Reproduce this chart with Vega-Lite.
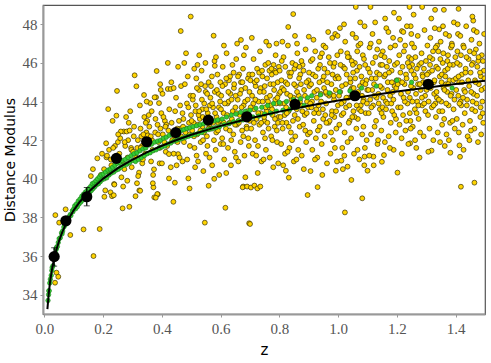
{
"$schema": "https://vega.github.io/schema/vega-lite/v6.json",
"width": 442, "height": 309,
"autosize": {"type": "none"},
"padding": {"left": 43, "top": 5, "right": 6, "bottom": 49},
"background": "white",
"config": {
  "view": {"stroke": "#555", "strokeWidth": 1.2},
  "axis": {"grid": false, "domainColor": "#999", "domainWidth": 2, "tickColor": "#999", "tickSize": 3, "tickWidth": 1}
},
"datasets": {
"curve": [
{"z":0.01,"mu":33.25},{"z":0.015,"mu":34.13},{"z":0.02,"mu":34.77},{"z":0.025,"mu":35.25},{"z":0.03,"mu":35.66},{"z":0.04,"mu":36.30},{"z":0.05,"mu":36.80},{"z":0.06,"mu":37.21},{"z":0.07,"mu":37.56},{"z":0.08,"mu":37.87},{"z":0.09,"mu":38.13},{"z":0.1,"mu":38.38},{"z":0.12,"mu":38.80},{"z":0.15,"mu":39.32},{"z":0.2,"mu":40.01},{"z":0.25,"mu":40.55},{"z":0.3,"mu":40.99},{"z":0.35,"mu":41.38},{"z":0.4,"mu":41.71},{"z":0.45,"mu":42.01},{"z":0.5,"mu":42.28},{"z":0.6,"mu":42.74},{"z":0.7,"mu":43.14},{"z":0.8,"mu":43.48},{"z":0.9,"mu":43.78},{"z":1.0,"mu":44.05},{"z":1.1,"mu":44.29},{"z":1.2,"mu":44.52},{"z":1.3,"mu":44.72},{"z":1.4,"mu":44.91},{"z":1.5,"mu":45.08}
],
"bins": [
{"z":0.033,"mu":35.97,"lo":35.48,"hi":36.43},{"z":0.073,"mu":37.83,"lo":37.68,"hi":37.98},{"z":0.144,"mu":39.07,"lo":38.6,"hi":39.55},{"z":0.245,"mu":41.06,"lo":40.95,"hi":41.17},{"z":0.348,"mu":41.92,"lo":41.82,"hi":42.02},{"z":0.447,"mu":42.39,"lo":42.3,"hi":42.48},{"z":0.558,"mu":43.04,"lo":42.95,"hi":43.13},{"z":0.689,"mu":43.21,"lo":43.12,"hi":43.3},{"z":0.853,"mu":43.86,"lo":43.78,"hi":43.94},{"z":1.057,"mu":44.3,"lo":44.22,"hi":44.38},{"z":1.307,"mu":44.89,"lo":44.81,"hi":44.97}
],
"green": [
{"z":0.012,"mu":33.7},{"z":0.014,"mu":34.0},{"z":0.015,"mu":34.2},{"z":0.016,"mu":34.2},{"z":0.018,"mu":34.6},{"z":0.02,"mu":34.8},{"z":0.023,"mu":35.0},{"z":0.025,"mu":35.25},{"z":0.026,"mu":35.4},{"z":0.029,"mu":35.5},{"z":0.032,"mu":35.85},{"z":0.035,"mu":36.1},{"z":0.038,"mu":36.15},{"z":0.04,"mu":36.35},{"z":0.041,"mu":36.45},{"z":0.044,"mu":36.5},{"z":0.047,"mu":36.7},{"z":0.05,"mu":36.9},{"z":0.054,"mu":36.95},{"z":0.058,"mu":37.2},{"z":0.06,"mu":37.15},{"z":0.062,"mu":37.3},{"z":0.066,"mu":37.5},{"z":0.07,"mu":37.6},{"z":0.072,"mu":37.7},{"z":0.075,"mu":37.7},{"z":0.08,"mu":37.95},{"z":0.085,"mu":38.05},{"z":0.088,"mu":38.15},{"z":0.09,"mu":38.1},{"z":0.095,"mu":38.35},{"z":0.097,"mu":38.3},{"z":0.1,"mu":38.45},
{"z":0.103,"mu":38.6},{"z":0.106,"mu":38.45},{"z":0.109,"mu":38.7},{"z":0.112,"mu":38.55},{"z":0.115,"mu":38.85},{"z":0.118,"mu":38.7},{"z":0.121,"mu":38.95},{"z":0.124,"mu":38.8},{"z":0.127,"mu":39.1},{"z":0.13,"mu":38.9},{"z":0.133,"mu":39.2},{"z":0.136,"mu":39.0},{"z":0.139,"mu":39.3},{"z":0.142,"mu":39.1},{"z":0.145,"mu":39.4},{"z":0.148,"mu":39.2},{"z":0.151,"mu":39.5},{"z":0.154,"mu":39.3},{"z":0.157,"mu":39.6},{"z":0.16,"mu":39.4},{"z":0.163,"mu":39.75},{"z":0.166,"mu":39.5},{"z":0.169,"mu":39.8},{"z":0.172,"mu":39.6},{"z":0.175,"mu":39.9},{"z":0.178,"mu":39.7},{"z":0.181,"mu":40.0},{"z":0.184,"mu":39.75},{"z":0.187,"mu":40.1},{"z":0.19,"mu":39.85},{"z":0.193,"mu":40.2},{"z":0.196,"mu":39.95},{"z":0.2,"mu":40.25},{"z":0.204,"mu":40.0},{"z":0.208,"mu":40.35},{"z":0.212,"mu":40.05},{"z":0.216,"mu":40.45},{"z":0.22,"mu":40.2},{"z":0.224,"mu":40.5},{"z":0.228,"mu":40.3},{"z":0.232,"mu":40.6},{"z":0.236,"mu":40.35},{"z":0.24,"mu":40.7},{"z":0.244,"mu":40.45},{"z":0.248,"mu":40.8},{"z":0.252,"mu":40.5},{"z":0.256,"mu":40.85},{"z":0.26,"mu":40.6},{"z":0.265,"mu":40.95},{"z":0.27,"mu":40.7},{"z":0.275,"mu":41.0},{"z":0.28,"mu":40.75},{"z":0.285,"mu":41.1},{"z":0.29,"mu":40.85},{"z":0.295,"mu":41.2},{"z":0.3,"mu":40.95},
{"z":0.305,"mu":41.3},{"z":0.31,"mu":40.9},{"z":0.315,"mu":41.35},{"z":0.32,"mu":41.0},{"z":0.325,"mu":41.45},{"z":0.33,"mu":41.1},{"z":0.335,"mu":41.55},{"z":0.34,"mu":41.2},{"z":0.345,"mu":41.6},{"z":0.35,"mu":41.3},{"z":0.355,"mu":41.75},{"z":0.36,"mu":41.35},{"z":0.365,"mu":41.8},{"z":0.37,"mu":41.45},{"z":0.375,"mu":41.9},{"z":0.38,"mu":41.5},{"z":0.385,"mu":41.95},{"z":0.39,"mu":41.6},{"z":0.395,"mu":42.0},{"z":0.4,"mu":41.65},{"z":0.405,"mu":42.1},{"z":0.41,"mu":41.7},{"z":0.415,"mu":42.15},{"z":0.42,"mu":41.8},{"z":0.425,"mu":42.25},{"z":0.43,"mu":41.85},{"z":0.435,"mu":42.3},{"z":0.44,"mu":41.95},{"z":0.445,"mu":42.35},{"z":0.45,"mu":42.0},{"z":0.455,"mu":42.45},{"z":0.46,"mu":42.05},{"z":0.465,"mu":42.5},{"z":0.47,"mu":42.1},{"z":0.475,"mu":42.55},{"z":0.48,"mu":42.15},{"z":0.485,"mu":42.6},{"z":0.49,"mu":42.2},{"z":0.495,"mu":42.65},{"z":0.5,"mu":42.25},{"z":0.506,"mu":42.7},{"z":0.512,"mu":42.3},{"z":0.518,"mu":42.75},{"z":0.524,"mu":42.35},{"z":0.53,"mu":42.8},{"z":0.536,"mu":42.4},{"z":0.542,"mu":42.85},{"z":0.548,"mu":42.5},{"z":0.554,"mu":42.9},{"z":0.56,"mu":42.55},{"z":0.566,"mu":42.95},{"z":0.572,"mu":42.6},{"z":0.578,"mu":43.0},{"z":0.584,"mu":42.65},{"z":0.59,"mu":43.05},{"z":0.596,"mu":42.7},
{"z":0.605,"mu":43.1},{"z":0.612,"mu":42.8},{"z":0.62,"mu":43.2},{"z":0.628,"mu":42.85},{"z":0.636,"mu":43.3},{"z":0.644,"mu":42.95},{"z":0.652,"mu":43.35},{"z":0.66,"mu":43.0},{"z":0.668,"mu":43.45},{"z":0.676,"mu":43.05},{"z":0.684,"mu":43.5},{"z":0.692,"mu":43.15},{"z":0.7,"mu":43.55},{"z":0.71,"mu":43.2},{"z":0.72,"mu":43.65},{"z":0.73,"mu":43.25},{"z":0.74,"mu":43.7},{"z":0.75,"mu":43.35},{"z":0.76,"mu":43.8},{"z":0.77,"mu":43.4},{"z":0.78,"mu":43.9},{"z":0.79,"mu":43.5},{"z":0.8,"mu":43.95},{"z":0.812,"mu":43.55},{"z":0.824,"mu":44.0},{"z":0.836,"mu":43.6},{"z":0.848,"mu":44.1},{"z":0.86,"mu":43.7},{"z":0.872,"mu":44.15},{"z":0.884,"mu":43.8},{"z":0.896,"mu":44.2},
{"z":0.91,"mu":44.3},{"z":0.94,"mu":44.35},{"z":0.97,"mu":44.45},{"z":1.005,"mu":44.5},{"z":1.04,"mu":44.55},{"z":1.08,"mu":44.7},{"z":1.13,"mu":44.8},{"z":1.2,"mu":45.1},{"z":1.25,"mu":45.0},{"z":1.388,"mu":44.7}
],
"gold": [
{"z":0.037,"mu":38.12},{"z":0.05,"mu":37.73},{"z":0.088,"mu":37.09},{"z":0.133,"mu":37.38},{"z":0.188,"mu":37.4},{"z":0.167,"mu":36.0},{"z":0.041,"mu":35.14},{"z":0.047,"mu":34.93},{"z":0.036,"mu":34.62},{"z":0.025,"mu":35.97},{"z":0.072,"mu":38.42},{"z":0.158,"mu":40.14},{"z":0.18,"mu":41.06},{"z":0.165,"mu":40.5},{"z":0.192,"mu":40.2},{"z":0.196,"mu":41.3},
{"z":0.204,"mu":39.07},{"z":0.207,"mu":39.4},{"z":0.21,"mu":41.84},{"z":0.211,"mu":41.11},{"z":0.217,"mu":43.61},{"z":0.22,"mu":41.5},{"z":0.225,"mu":39.3},{"z":0.23,"mu":39.1},{"z":0.232,"mu":43.0},{"z":0.236,"mu":39.15},{"z":0.237,"mu":39.73},{"z":0.238,"mu":39.7},{"z":0.245,"mu":43.27},{"z":0.247,"mu":44.55},{"z":0.25,"mu":41.9},{"z":0.262,"mu":40.08},{"z":0.266,"mu":38.47},{"z":0.27,"mu":42.45},{"z":0.275,"mu":41.7},{"z":0.28,"mu":42.45},{"z":0.285,"mu":42.0},{"z":0.289,"mu":38.55},{"z":0.29,"mu":42.5},{"z":0.295,"mu":41.6},{"z":0.26,"mu":42.45},{"z":0.255,"mu":41.3},{"z":0.24,"mu":41.7},{"z":0.228,"mu":40.7},{"z":0.215,"mu":40.4},{"z":0.265,"mu":40.9},{"z":0.272,"mu":40.5},{"z":0.283,"mu":41.1},{"z":0.297,"mu":40.6},{"z":0.242,"mu":40.95},{"z":0.258,"mu":42.1},{"z":0.278,"mu":43.2},{"z":0.292,"mu":43.5},{"z":0.268,"mu":39.6},{"z":0.282,"mu":39.9},
{"z":0.203,"mu":40.5},{"z":0.213,"mu":41.2},{"z":0.226,"mu":41.0},{"z":0.234,"mu":41.6},{"z":0.251,"mu":42.3},{"z":0.257,"mu":40.9},{"z":0.273,"mu":41.9},{"z":0.287,"mu":42.9},{"z":0.296,"mu":41.5},{"z":0.304,"mu":42.2},{"z":0.316,"mu":41.6},{"z":0.327,"mu":42.6},{"z":0.332,"mu":41.7},{"z":0.347,"mu":42.4},{"z":0.357,"mu":42.7},{"z":0.366,"mu":42.0},{"z":0.377,"mu":42.4},{"z":0.387,"mu":42.3},{"z":0.393,"mu":41.6},{"z":0.403,"mu":42.3},{"z":0.413,"mu":41.4},{"z":0.422,"mu":42.5},{"z":0.433,"mu":42.9},{"z":0.442,"mu":42.1},{"z":0.453,"mu":41.9},{"z":0.463,"mu":42.6},{"z":0.473,"mu":43.1},{"z":0.483,"mu":42.6},{"z":0.493,"mu":42.3},{"z":0.499,"mu":43.3},
{"z":0.307,"mu":45.36},{"z":0.313,"mu":44.79},{"z":0.339,"mu":44.34},{"z":0.38,"mu":44.22},{"z":0.375,"mu":44.22},{"z":0.36,"mu":43.92},{"z":0.39,"mu":43.92},{"z":0.382,"mu":45.58},{"z":0.31,"mu":39.1},{"z":0.323,"mu":39.4},{"z":0.315,"mu":39.77},{"z":0.371,"mu":39.56},{"z":0.374,"mu":39.04},{"z":0.386,"mu":39.2},{"z":0.369,"mu":39.77},{"z":0.333,"mu":40.8},{"z":0.322,"mu":40.32},{"z":0.319,"mu":40.14},{"z":0.326,"mu":39.38},{"z":0.373,"mu":40.49},{"z":0.37,"mu":40.2},{"z":0.384,"mu":39.21},{"z":0.379,"mu":39.02},{"z":0.34,"mu":43.2},{"z":0.355,"mu":43.3},{"z":0.365,"mu":43.5},{"z":0.35,"mu":43.0},{"z":0.378,"mu":43.1},{"z":0.345,"mu":42.9},{"z":0.33,"mu":42.2},{"z":0.337,"mu":42.3},{"z":0.352,"mu":42.25},{"z":0.362,"mu":42.2},{"z":0.305,"mu":42.7},{"z":0.318,"mu":42.0},{"z":0.328,"mu":41.6},{"z":0.343,"mu":41.3},{"z":0.358,"mu":41.8},{"z":0.368,"mu":41.5},{"z":0.388,"mu":41.9},{"z":0.395,"mu":42.6},{"z":0.302,"mu":41.4},{"z":0.325,"mu":43.8},{"z":0.348,"mu":44.0},{"z":0.392,"mu":40.8},{"z":0.398,"mu":43.4},{"z":0.312,"mu":41.1},{"z":0.385,"mu":42.8},{"z":0.396,"mu":44.6},{"z":0.335,"mu":41.0},{"z":0.363,"mu":40.9},{"z":0.394,"mu":44.9},
{"z":0.498,"mu":48.4},{"z":0.464,"mu":47.65},{"z":0.42,"mu":44.65},{"z":0.43,"mu":44.65},{"z":0.44,"mu":44.7},{"z":0.465,"mu":44.8},{"z":0.478,"mu":44.9},{"z":0.425,"mu":43.6},{"z":0.445,"mu":43.5},{"z":0.47,"mu":43.4},{"z":0.485,"mu":43.9},{"z":0.49,"mu":43.7},{"z":0.41,"mu":43.0},{"z":0.415,"mu":42.8},{"z":0.405,"mu":43.2},{"z":0.412,"mu":42.7},{"z":0.424,"mu":40.02},{"z":0.444,"mu":39.8},{"z":0.439,"mu":38.81},{"z":0.49,"mu":40.02},{"z":0.424,"mu":41.28},{"z":0.455,"mu":41.28},{"z":0.47,"mu":40.9},{"z":0.486,"mu":41.0},{"z":0.4,"mu":40.8},{"z":0.43,"mu":40.6},{"z":0.45,"mu":40.7},{"z":0.46,"mu":41.1},{"z":0.44,"mu":41.3},{"z":0.475,"mu":41.9},{"z":0.465,"mu":42.2},{"z":0.48,"mu":42.4},{"z":0.495,"mu":41.7},{"z":0.435,"mu":42.0},{"z":0.418,"mu":41.7},{"z":0.452,"mu":42.6},{"z":0.458,"mu":43.0},{"z":0.472,"mu":42.7},{"z":0.492,"mu":42.9},{"z":0.488,"mu":45.3},{"z":0.448,"mu":44.2},{"z":0.432,"mu":45.0},{"z":0.402,"mu":44.4},{"z":0.497,"mu":44.3},{"z":0.482,"mu":46.5},{"z":0.476,"mu":46.0},{"z":0.455,"mu":45.8},{"z":0.42,"mu":46.0},{"z":0.494,"mu":39.5},{"z":0.408,"mu":41.9},{"z":0.462,"mu":43.8},
{"z":0.527,"mu":46.4},{"z":0.521,"mu":45.9},{"z":0.576,"mu":47.41},{"z":0.579,"mu":46.1},{"z":0.58,"mu":45.85},{"z":0.546,"mu":37.73},{"z":0.559,"mu":39.64},{"z":0.505,"mu":44.1},{"z":0.508,"mu":42.9},{"z":0.511,"mu":41.6},{"z":0.514,"mu":43.5},{"z":0.517,"mu":45.2},{"z":0.52,"mu":42.3},{"z":0.523,"mu":40.9},{"z":0.526,"mu":44.6},{"z":0.529,"mu":43.1},{"z":0.532,"mu":41.9},{"z":0.535,"mu":45.6},{"z":0.538,"mu":42.7},{"z":0.541,"mu":40.4},{"z":0.544,"mu":43.9},{"z":0.547,"mu":44.8},{"z":0.55,"mu":41.3},{"z":0.553,"mu":42.2},{"z":0.556,"mu":43.4},{"z":0.559,"mu":45.0},{"z":0.562,"mu":41.1},{"z":0.565,"mu":44.2},{"z":0.568,"mu":42.6},{"z":0.571,"mu":40.7},{"z":0.574,"mu":43.7},{"z":0.577,"mu":42.0},{"z":0.58,"mu":44.5},{"z":0.583,"mu":41.5},{"z":0.586,"mu":43.2},{"z":0.589,"mu":45.4},{"z":0.592,"mu":42.9},{"z":0.595,"mu":40.2},{"z":0.598,"mu":44.0},{"z":0.503,"mu":42.5},{"z":0.51,"mu":45.7},{"z":0.518,"mu":41.2},{"z":0.525,"mu":43.3},{"z":0.533,"mu":44.9},{"z":0.54,"mu":42.0},{"z":0.548,"mu":46.0},{"z":0.555,"mu":41.7},{"z":0.563,"mu":43.8},{"z":0.57,"mu":45.3},{"z":0.578,"mu":40.0},{"z":0.585,"mu":42.4},{"z":0.593,"mu":44.4},{"z":0.6,"mu":41.8},{"z":0.513,"mu":40.6},{"z":0.537,"mu":43.6},{"z":0.561,"mu":42.8},{"z":0.584,"mu":46.3},{"z":0.597,"mu":43.0},
{"z":0.501,"mu":43.0},{"z":0.506,"mu":44.3},{"z":0.509,"mu":42.2},{"z":0.515,"mu":43.8},{"z":0.519,"mu":44.7},{"z":0.522,"mu":42.8},{"z":0.527,"mu":43.5},{"z":0.531,"mu":42.5},{"z":0.536,"mu":44.1},{"z":0.539,"mu":43.2},{"z":0.543,"mu":42.4},{"z":0.549,"mu":44.5},{"z":0.551,"mu":43.6},{"z":0.554,"mu":44.4},{"z":0.558,"mu":42.6},{"z":0.564,"mu":43.1},{"z":0.567,"mu":44.8},{"z":0.571,"mu":43.9},{"z":0.575,"mu":42.9},{"z":0.581,"mu":43.4},{"z":0.587,"mu":44.6},{"z":0.591,"mu":42.5},{"z":0.594,"mu":43.7},{"z":0.599,"mu":45.0},
{"z":0.616,"mu":38.5},{"z":0.669,"mu":47.19},{"z":0.677,"mu":39.6},{"z":0.675,"mu":39.56},{"z":0.697,"mu":37.7},{"z":0.684,"mu":40.08},{"z":0.69,"mu":39.6},{"z":0.602,"mu":44.3},{"z":0.605,"mu":42.1},{"z":0.607,"mu":45.8},{"z":0.61,"mu":43.4},{"z":0.612,"mu":41.0},{"z":0.615,"mu":44.9},{"z":0.618,"mu":42.6},{"z":0.62,"mu":46.5},{"z":0.623,"mu":43.9},{"z":0.625,"mu":41.6},{"z":0.628,"mu":45.1},{"z":0.63,"mu":42.9},{"z":0.633,"mu":44.4},{"z":0.635,"mu":40.7},{"z":0.638,"mu":43.1},{"z":0.64,"mu":45.9},{"z":0.643,"mu":42.3},{"z":0.645,"mu":44.7},{"z":0.648,"mu":41.4},{"z":0.65,"mu":43.7},{"z":0.653,"mu":46.2},{"z":0.655,"mu":42.8},{"z":0.658,"mu":44.1},{"z":0.66,"mu":40.9},{"z":0.663,"mu":45.4},{"z":0.665,"mu":43.3},{"z":0.668,"mu":41.9},{"z":0.67,"mu":44.6},{"z":0.673,"mu":42.5},{"z":0.676,"mu":45.7},{"z":0.678,"mu":43.8},{"z":0.681,"mu":41.2},{"z":0.683,"mu":44.0},{"z":0.686,"mu":46.8},{"z":0.688,"mu":42.7},{"z":0.691,"mu":43.5},{"z":0.693,"mu":45.2},{"z":0.696,"mu":41.7},{"z":0.698,"mu":44.5},{"z":0.604,"mu":43.0},{"z":0.611,"mu":46.9},{"z":0.619,"mu":40.3},{"z":0.627,"mu":44.0},{"z":0.636,"mu":42.0},{"z":0.644,"mu":45.5},{"z":0.652,"mu":41.1},{"z":0.661,"mu":43.0},{"z":0.669,"mu":45.0},{"z":0.677,"mu":42.2},{"z":0.685,"mu":43.2},{"z":0.694,"mu":42.1},{"z":0.609,"mu":41.8},{"z":0.632,"mu":45.3},{"z":0.656,"mu":47.0},{"z":0.679,"mu":46.4},{"z":0.699,"mu":43.0},
{"z":0.601,"mu":43.6},{"z":0.606,"mu":44.8},{"z":0.611,"mu":42.9},{"z":0.614,"mu":43.9},{"z":0.619,"mu":45.2},{"z":0.622,"mu":43.3},{"z":0.626,"mu":44.5},{"z":0.631,"mu":42.5},{"z":0.637,"mu":44.1},{"z":0.641,"mu":43.5},{"z":0.646,"mu":44.9},{"z":0.649,"mu":42.8},{"z":0.651,"mu":44.3},{"z":0.654,"mu":43.4},{"z":0.659,"mu":45.3},{"z":0.662,"mu":42.9},{"z":0.666,"mu":44.4},{"z":0.671,"mu":43.7},{"z":0.674,"mu":45.0},{"z":0.68,"mu":43.1},{"z":0.684,"mu":44.7},{"z":0.689,"mu":42.6},{"z":0.692,"mu":44.1},{"z":0.697,"mu":45.4},
{"z":0.7,"mu":37.66},{"z":0.703,"mu":39.55},{"z":0.715,"mu":39.65},{"z":0.725,"mu":39.5},{"z":0.735,"mu":39.6},{"z":0.78,"mu":45.9},{"z":0.783,"mu":45.6},{"z":0.79,"mu":47.0},{"z":0.765,"mu":46.9},{"z":0.755,"mu":47.1},{"z":0.701,"mu":45.1},{"z":0.704,"mu":42.6},{"z":0.707,"mu":44.3},{"z":0.709,"mu":41.3},{"z":0.712,"mu":46.2},{"z":0.714,"mu":43.6},{"z":0.717,"mu":42.0},{"z":0.719,"mu":44.8},{"z":0.722,"mu":43.1},{"z":0.724,"mu":45.7},{"z":0.727,"mu":41.7},{"z":0.729,"mu":44.0},{"z":0.732,"mu":42.8},{"z":0.734,"mu":46.6},{"z":0.737,"mu":43.4},{"z":0.739,"mu":40.9},{"z":0.742,"mu":45.3},{"z":0.744,"mu":42.4},{"z":0.747,"mu":44.5},{"z":0.749,"mu":43.0},{"z":0.752,"mu":45.9},{"z":0.754,"mu":41.5},{"z":0.757,"mu":44.2},{"z":0.759,"mu":42.9},{"z":0.762,"mu":46.0},{"z":0.764,"mu":43.7},{"z":0.767,"mu":41.1},{"z":0.769,"mu":44.9},{"z":0.772,"mu":42.2},{"z":0.774,"mu":45.4},{"z":0.777,"mu":43.3},{"z":0.779,"mu":40.6},{"z":0.782,"mu":44.6},{"z":0.784,"mu":42.7},{"z":0.787,"mu":46.4},{"z":0.789,"mu":43.9},{"z":0.792,"mu":41.9},{"z":0.794,"mu":45.0},{"z":0.797,"mu":43.2},{"z":0.799,"mu":44.4},{"z":0.706,"mu":47.3},{"z":0.716,"mu":45.0},{"z":0.726,"mu":40.3},{"z":0.736,"mu":44.7},{"z":0.746,"mu":41.0},{"z":0.756,"mu":43.5},{"z":0.766,"mu":45.6},{"z":0.776,"mu":42.0},{"z":0.786,"mu":44.1},{"z":0.796,"mu":40.8},{"z":0.711,"mu":43.9},{"z":0.731,"mu":45.5},{"z":0.751,"mu":42.1},{"z":0.771,"mu":43.8},{"z":0.791,"mu":42.5},{"z":0.721,"mu":41.2},{"z":0.761,"mu":44.0},
{"z":0.702,"mu":43.7},{"z":0.708,"mu":45.4},{"z":0.713,"mu":42.9},{"z":0.718,"mu":44.1},{"z":0.723,"mu":45.1},{"z":0.728,"mu":43.4},{"z":0.733,"mu":44.5},{"z":0.738,"mu":42.9},{"z":0.741,"mu":45.6},{"z":0.743,"mu":44.0},{"z":0.748,"mu":43.2},{"z":0.75,"mu":44.8},{"z":0.753,"mu":43.7},{"z":0.758,"mu":45.2},{"z":0.763,"mu":42.6},{"z":0.768,"mu":44.3},{"z":0.773,"mu":45.7},{"z":0.775,"mu":43.6},{"z":0.78,"mu":44.9},{"z":0.785,"mu":43.1},{"z":0.788,"mu":45.5},{"z":0.793,"mu":44.2},{"z":0.795,"mu":42.9},{"z":0.798,"mu":45.8},
{"z":0.847,"mu":48.53},{"z":0.83,"mu":47.86},{"z":0.822,"mu":40.42},{"z":0.832,"mu":40.06},{"z":0.896,"mu":39.16},{"z":0.81,"mu":47.1},{"z":0.86,"mu":47.0},{"z":0.801,"mu":45.6},{"z":0.804,"mu":43.2},{"z":0.806,"mu":41.8},{"z":0.809,"mu":44.7},{"z":0.811,"mu":42.6},{"z":0.814,"mu":46.3},{"z":0.816,"mu":43.9},{"z":0.819,"mu":41.3},{"z":0.821,"mu":45.0},{"z":0.824,"mu":42.9},{"z":0.826,"mu":44.4},{"z":0.829,"mu":46.9},{"z":0.831,"mu":43.5},{"z":0.834,"mu":41.6},{"z":0.836,"mu":45.3},{"z":0.839,"mu":42.4},{"z":0.841,"mu":44.1},{"z":0.844,"mu":46.0},{"z":0.846,"mu":43.0},{"z":0.849,"mu":40.9},{"z":0.851,"mu":45.7},{"z":0.854,"mu":42.2},{"z":0.856,"mu":44.8},{"z":0.859,"mu":43.6},{"z":0.861,"mu":46.5},{"z":0.864,"mu":41.5},{"z":0.866,"mu":44.3},{"z":0.869,"mu":42.7},{"z":0.871,"mu":45.4},{"z":0.874,"mu":43.8},{"z":0.876,"mu":41.2},{"z":0.879,"mu":45.9},{"z":0.881,"mu":42.8},{"z":0.884,"mu":44.6},{"z":0.886,"mu":43.3},{"z":0.889,"mu":46.7},{"z":0.891,"mu":41.9},{"z":0.894,"mu":44.0},{"z":0.897,"mu":42.3},{"z":0.899,"mu":45.1},{"z":0.803,"mu":44.5},{"z":0.813,"mu":40.7},{"z":0.823,"mu":43.7},{"z":0.833,"mu":45.5},{"z":0.843,"mu":42.0},{"z":0.853,"mu":47.4},{"z":0.863,"mu":43.1},{"z":0.873,"mu":44.9},{"z":0.883,"mu":40.5},{"z":0.893,"mu":43.4},{"z":0.808,"mu":46.1},{"z":0.828,"mu":41.4},{"z":0.848,"mu":44.2},{"z":0.868,"mu":45.8},{"z":0.888,"mu":42.5},{"z":0.818,"mu":43.3},{"z":0.858,"mu":41.0},
{"z":0.802,"mu":43.9},{"z":0.807,"mu":45.1},{"z":0.81,"mu":42.9},{"z":0.815,"mu":44.6},{"z":0.82,"mu":45.8},{"z":0.825,"mu":43.4},{"z":0.827,"mu":44.9},{"z":0.832,"mu":42.7},{"z":0.837,"mu":44.3},{"z":0.84,"mu":45.5},{"z":0.845,"mu":43.8},{"z":0.85,"mu":44.9},{"z":0.852,"mu":43.3},{"z":0.855,"mu":45.9},{"z":0.86,"mu":44.5},{"z":0.862,"mu":43.9},{"z":0.867,"mu":45.2},{"z":0.87,"mu":44.0},{"z":0.875,"mu":46.1},{"z":0.878,"mu":43.5},{"z":0.882,"mu":45.6},{"z":0.887,"mu":44.3},{"z":0.892,"mu":45.0},{"z":0.898,"mu":43.7},
{"z":0.93,"mu":39.57},{"z":0.98,"mu":47.3},{"z":0.99,"mu":47.5},{"z":0.998,"mu":47.4},{"z":0.95,"mu":46.9},{"z":0.9,"mu":47.36},{"z":0.992,"mu":40.42},{"z":0.902,"mu":44.8},{"z":0.904,"mu":42.4},{"z":0.907,"mu":46.1},{"z":0.909,"mu":43.7},{"z":0.912,"mu":41.5},{"z":0.914,"mu":45.4},{"z":0.917,"mu":43.0},{"z":0.919,"mu":44.5},{"z":0.922,"mu":46.6},{"z":0.924,"mu":42.1},{"z":0.927,"mu":44.2},{"z":0.929,"mu":41.1},{"z":0.932,"mu":45.7},{"z":0.934,"mu":43.4},{"z":0.937,"mu":42.7},{"z":0.939,"mu":46.3},{"z":0.942,"mu":44.0},{"z":0.944,"mu":41.8},{"z":0.947,"mu":45.1},{"z":0.949,"mu":43.1},{"z":0.952,"mu":44.7},{"z":0.954,"mu":42.2},{"z":0.957,"mu":46.8},{"z":0.959,"mu":43.9},{"z":0.962,"mu":40.8},{"z":0.964,"mu":45.5},{"z":0.967,"mu":42.9},{"z":0.969,"mu":44.3},{"z":0.972,"mu":46.0},{"z":0.974,"mu":41.3},{"z":0.977,"mu":44.9},{"z":0.979,"mu":43.5},{"z":0.982,"mu":42.0},{"z":0.984,"mu":45.8},{"z":0.987,"mu":43.2},{"z":0.989,"mu":41.6},{"z":0.992,"mu":44.6},{"z":0.994,"mu":42.6},{"z":0.997,"mu":46.4},{"z":0.999,"mu":43.8},{"z":0.906,"mu":40.4},{"z":0.916,"mu":47.2},{"z":0.926,"mu":43.6},{"z":0.936,"mu":45.0},{"z":0.946,"mu":40.2},{"z":0.956,"mu":43.3},{"z":0.966,"mu":47.6},{"z":0.976,"mu":42.4},{"z":0.986,"mu":44.1},{"z":0.996,"mu":40.9},{"z":0.911,"mu":44.0},{"z":0.931,"mu":42.5},{"z":0.951,"mu":45.3},{"z":0.971,"mu":43.0},{"z":0.991,"mu":45.2},{"z":0.921,"mu":41.0},{"z":0.961,"mu":44.4},
{"z":0.901,"mu":45.5},{"z":0.905,"mu":43.9},{"z":0.908,"mu":44.9},{"z":0.913,"mu":46.2},{"z":0.918,"mu":43.4},{"z":0.923,"mu":45.3},{"z":0.928,"mu":44.6},{"z":0.933,"mu":43.8},{"z":0.938,"mu":45.9},{"z":0.941,"mu":44.4},{"z":0.945,"mu":46.5},{"z":0.948,"mu":43.6},{"z":0.953,"mu":45.7},{"z":0.958,"mu":44.5},{"z":0.96,"mu":42.9},{"z":0.963,"mu":45.0},{"z":0.968,"mu":46.3},{"z":0.973,"mu":44.4},{"z":0.978,"mu":43.3},{"z":0.981,"mu":45.4},{"z":0.985,"mu":44.3},{"z":0.988,"mu":46.0},{"z":0.993,"mu":43.5},{"z":0.998,"mu":45.3},
{"z":1.045,"mu":39.94},{"z":1.023,"mu":38.26},{"z":1.082,"mu":38.99},{"z":1.032,"mu":40.63},{"z":1.011,"mu":40.94},{"z":1.075,"mu":48.1},{"z":1.09,"mu":47.9},{"z":1.06,"mu":48.9},{"z":1.02,"mu":48.0},{"z":1.09,"mu":41.15},{"z":1.002,"mu":45.2},{"z":1.004,"mu":42.8},{"z":1.007,"mu":44.5},{"z":1.009,"mu":46.6},{"z":1.012,"mu":43.3},{"z":1.014,"mu":41.6},{"z":1.017,"mu":45.8},{"z":1.019,"mu":44.0},{"z":1.022,"mu":42.4},{"z":1.024,"mu":47.1},{"z":1.027,"mu":43.7},{"z":1.029,"mu":45.4},{"z":1.032,"mu":41.9},{"z":1.034,"mu":44.2},{"z":1.037,"mu":46.3},{"z":1.039,"mu":43.0},{"z":1.042,"mu":45.0},{"z":1.044,"mu":42.1},{"z":1.047,"mu":44.7},{"z":1.049,"mu":47.5},{"z":1.052,"mu":43.5},{"z":1.054,"mu":41.3},{"z":1.057,"mu":46.0},{"z":1.059,"mu":44.4},{"z":1.062,"mu":42.6},{"z":1.064,"mu":45.6},{"z":1.067,"mu":43.1},{"z":1.069,"mu":46.9},{"z":1.072,"mu":41.0},{"z":1.074,"mu":44.8},{"z":1.077,"mu":43.8},{"z":1.079,"mu":45.3},{"z":1.082,"mu":42.3},{"z":1.084,"mu":46.4},{"z":1.087,"mu":44.1},{"z":1.089,"mu":40.7},{"z":1.092,"mu":45.9},{"z":1.094,"mu":43.4},{"z":1.097,"mu":42.0},{"z":1.099,"mu":44.6},{"z":1.006,"mu":47.8},{"z":1.016,"mu":40.5},{"z":1.026,"mu":44.9},{"z":1.036,"mu":42.9},{"z":1.046,"mu":46.1},{"z":1.056,"mu":43.2},{"z":1.066,"mu":41.5},{"z":1.076,"mu":47.0},{"z":1.086,"mu":42.7},{"z":1.096,"mu":45.1},{"z":1.011,"mu":43.9},{"z":1.031,"mu":46.5},{"z":1.051,"mu":45.5},{"z":1.071,"mu":43.6},{"z":1.091,"mu":41.6},{"z":1.021,"mu":41.2},{"z":1.061,"mu":47.3},{"z":1.081,"mu":44.3},
{"z":1.003,"mu":44.3},{"z":1.008,"mu":45.9},{"z":1.013,"mu":44.8},{"z":1.018,"mu":43.4},{"z":1.023,"mu":45.7},{"z":1.028,"mu":44.2},{"z":1.033,"mu":46.3},{"z":1.038,"mu":43.8},{"z":1.041,"mu":45.2},{"z":1.043,"mu":44.6},{"z":1.048,"mu":43.2},{"z":1.05,"mu":45.9},{"z":1.053,"mu":44.7},{"z":1.058,"mu":45.2},{"z":1.063,"mu":43.8},{"z":1.065,"mu":46.6},{"z":1.068,"mu":44.5},{"z":1.073,"mu":45.8},{"z":1.078,"mu":43.5},{"z":1.083,"mu":45.0},{"z":1.085,"mu":44.0},{"z":1.088,"mu":46.2},{"z":1.093,"mu":44.9},{"z":1.098,"mu":43.9},
{"z":1.1,"mu":40.42},{"z":1.149,"mu":40.88},{"z":1.156,"mu":41.23},{"z":1.12,"mu":41.15},{"z":1.11,"mu":48.9},{"z":1.19,"mu":48.6},{"z":1.16,"mu":48.3},{"z":1.102,"mu":45.7},{"z":1.104,"mu":43.4},{"z":1.107,"mu":46.8},{"z":1.109,"mu":44.1},{"z":1.112,"mu":42.3},{"z":1.114,"mu":45.2},{"z":1.117,"mu":47.5},{"z":1.119,"mu":43.8},{"z":1.122,"mu":44.9},{"z":1.124,"mu":42.7},{"z":1.127,"mu":46.3},{"z":1.129,"mu":43.0},{"z":1.132,"mu":45.5},{"z":1.134,"mu":41.8},{"z":1.137,"mu":44.4},{"z":1.139,"mu":47.1},{"z":1.142,"mu":43.6},{"z":1.144,"mu":45.9},{"z":1.147,"mu":42.5},{"z":1.149,"mu":44.7},{"z":1.152,"mu":46.6},{"z":1.154,"mu":43.2},{"z":1.157,"mu":45.3},{"z":1.159,"mu":41.9},{"z":1.162,"mu":44.0},{"z":1.164,"mu":47.8},{"z":1.167,"mu":43.9},{"z":1.169,"mu":45.0},{"z":1.172,"mu":42.2},{"z":1.174,"mu":46.1},{"z":1.177,"mu":44.3},{"z":1.179,"mu":42.9},{"z":1.182,"mu":45.6},{"z":1.184,"mu":43.5},{"z":1.187,"mu":47.3},{"z":1.189,"mu":41.5},{"z":1.192,"mu":44.8},{"z":1.194,"mu":46.9},{"z":1.197,"mu":43.1},{"z":1.199,"mu":45.1},{"z":1.106,"mu":41.2},{"z":1.116,"mu":44.6},{"z":1.126,"mu":48.1},{"z":1.136,"mu":42.0},{"z":1.146,"mu":46.4},{"z":1.166,"mu":45.8},{"z":1.176,"mu":41.6},{"z":1.186,"mu":44.5},{"z":1.196,"mu":42.4},{"z":1.111,"mu":47.0},{"z":1.131,"mu":44.2},{"z":1.151,"mu":43.7},{"z":1.171,"mu":47.6},{"z":1.191,"mu":43.3},{"z":1.121,"mu":40.7},
{"z":1.103,"mu":44.6},{"z":1.108,"mu":45.5},{"z":1.113,"mu":43.7},{"z":1.118,"mu":46.0},{"z":1.123,"mu":44.3},{"z":1.128,"mu":45.2},{"z":1.133,"mu":46.7},{"z":1.138,"mu":43.9},{"z":1.141,"mu":45.4},{"z":1.143,"mu":44.8},{"z":1.148,"mu":43.4},{"z":1.15,"mu":45.9},{"z":1.153,"mu":44.2},{"z":1.158,"mu":46.3},{"z":1.161,"mu":45.4},{"z":1.163,"mu":43.6},{"z":1.168,"mu":44.6},{"z":1.173,"mu":45.5},{"z":1.178,"mu":46.8},{"z":1.181,"mu":43.9},{"z":1.183,"mu":45.0},{"z":1.188,"mu":44.1},{"z":1.193,"mu":45.9},{"z":1.198,"mu":44.7},
{"z":1.202,"mu":40.32},{"z":1.245,"mu":41.84},{"z":1.243,"mu":48.9},{"z":1.286,"mu":48.9},{"z":1.247,"mu":47.9},{"z":1.249,"mu":47.5},{"z":1.217,"mu":47.65},{"z":1.201,"mu":46.0},{"z":1.204,"mu":43.7},{"z":1.206,"mu":45.1},{"z":1.209,"mu":42.8},{"z":1.211,"mu":47.2},{"z":1.214,"mu":44.4},{"z":1.216,"mu":42.1},{"z":1.219,"mu":45.8},{"z":1.221,"mu":43.3},{"z":1.224,"mu":46.6},{"z":1.226,"mu":44.9},{"z":1.229,"mu":42.5},{"z":1.231,"mu":45.4},{"z":1.234,"mu":47.9},{"z":1.236,"mu":43.9},{"z":1.239,"mu":41.8},{"z":1.241,"mu":46.3},{"z":1.244,"mu":44.2},{"z":1.246,"mu":43.0},{"z":1.249,"mu":45.6},{"z":1.251,"mu":47.0},{"z":1.254,"mu":42.7},{"z":1.256,"mu":44.7},{"z":1.259,"mu":46.8},{"z":1.261,"mu":43.6},{"z":1.264,"mu":45.2},{"z":1.266,"mu":41.6},{"z":1.269,"mu":44.0},{"z":1.271,"mu":47.4},{"z":1.274,"mu":43.1},{"z":1.276,"mu":45.9},{"z":1.279,"mu":42.4},{"z":1.281,"mu":44.6},{"z":1.284,"mu":46.5},{"z":1.286,"mu":43.8},{"z":1.289,"mu":45.0},{"z":1.291,"mu":42.2},{"z":1.294,"mu":47.7},{"z":1.296,"mu":44.3},{"z":1.299,"mu":46.1},{"z":1.207,"mu":48.3},{"z":1.217,"mu":41.3},{"z":1.227,"mu":44.0},{"z":1.237,"mu":46.0},{"z":1.247,"mu":42.6},{"z":1.257,"mu":48.5},{"z":1.267,"mu":43.4},{"z":1.277,"mu":41.1},{"z":1.287,"mu":45.4},{"z":1.297,"mu":43.5},{"z":1.212,"mu":45.5},{"z":1.232,"mu":43.0},{"z":1.252,"mu":45.9},{"z":1.272,"mu":44.9},{"z":1.292,"mu":45.7},{"z":1.222,"mu":47.6},{"z":1.262,"mu":42.0},
{"z":1.203,"mu":44.9},{"z":1.208,"mu":46.4},{"z":1.213,"mu":43.7},{"z":1.218,"mu":45.0},{"z":1.223,"mu":44.2},{"z":1.228,"mu":46.9},{"z":1.233,"mu":45.2},{"z":1.238,"mu":44.5},{"z":1.242,"mu":45.8},{"z":1.244,"mu":43.4},{"z":1.248,"mu":44.8},{"z":1.25,"mu":46.2},{"z":1.253,"mu":44.0},{"z":1.258,"mu":45.4},{"z":1.263,"mu":46.3},{"z":1.265,"mu":44.4},{"z":1.268,"mu":45.7},{"z":1.273,"mu":43.8},{"z":1.278,"mu":44.9},{"z":1.283,"mu":46.0},{"z":1.285,"mu":44.2},{"z":1.288,"mu":45.3},{"z":1.293,"mu":43.9},{"z":1.298,"mu":45.0},
{"z":1.318,"mu":41.46},{"z":1.382,"mu":41.35},{"z":1.33,"mu":48.75},{"z":1.36,"mu":48.75},{"z":1.344,"mu":47.74},{"z":1.378,"mu":47.4},{"z":1.301,"mu":44.6},{"z":1.304,"mu":46.9},{"z":1.306,"mu":43.3},{"z":1.309,"mu":45.5},{"z":1.311,"mu":42.6},{"z":1.314,"mu":47.3},{"z":1.316,"mu":44.9},{"z":1.319,"mu":43.7},{"z":1.321,"mu":46.2},{"z":1.324,"mu":42.0},{"z":1.326,"mu":45.0},{"z":1.329,"mu":47.8},{"z":1.331,"mu":43.9},{"z":1.334,"mu":45.8},{"z":1.336,"mu":44.2},{"z":1.339,"mu":42.4},{"z":1.341,"mu":46.6},{"z":1.344,"mu":43.5},{"z":1.346,"mu":45.3},{"z":1.349,"mu":47.1},{"z":1.351,"mu":44.0},{"z":1.354,"mu":42.8},{"z":1.356,"mu":46.0},{"z":1.359,"mu":44.7},{"z":1.361,"mu":43.1},{"z":1.364,"mu":45.6},{"z":1.366,"mu":47.5},{"z":1.369,"mu":42.3},{"z":1.371,"mu":44.5},{"z":1.374,"mu":46.4},{"z":1.376,"mu":43.8},{"z":1.379,"mu":45.1},{"z":1.381,"mu":42.9},{"z":1.384,"mu":46.8},{"z":1.386,"mu":44.4},{"z":1.389,"mu":43.0},{"z":1.391,"mu":45.9},{"z":1.394,"mu":48.1},{"z":1.396,"mu":44.1},{"z":1.399,"mu":46.3},{"z":1.307,"mu":41.4},{"z":1.317,"mu":48.3},{"z":1.327,"mu":44.4},{"z":1.337,"mu":46.9},{"z":1.347,"mu":41.9},{"z":1.357,"mu":47.9},{"z":1.367,"mu":44.9},{"z":1.377,"mu":42.0},{"z":1.387,"mu":47.0},{"z":1.397,"mu":42.6},{"z":1.313,"mu":45.9},{"z":1.333,"mu":43.2},{"z":1.353,"mu":45.4},{"z":1.373,"mu":45.7},{"z":1.393,"mu":43.6},{"z":1.323,"mu":46.6},{"z":1.363,"mu":41.7},
{"z":1.303,"mu":45.4},{"z":1.308,"mu":44.0},{"z":1.312,"mu":46.3},{"z":1.315,"mu":44.7},{"z":1.32,"mu":45.6},{"z":1.325,"mu":43.8},{"z":1.328,"mu":45.1},{"z":1.332,"mu":46.8},{"z":1.335,"mu":44.5},{"z":1.34,"mu":45.7},{"z":1.343,"mu":44.1},{"z":1.348,"mu":46.2},{"z":1.352,"mu":45.0},{"z":1.355,"mu":43.5},{"z":1.358,"mu":46.5},{"z":1.362,"mu":44.6},{"z":1.365,"mu":45.3},{"z":1.368,"mu":43.9},{"z":1.372,"mu":46.1},{"z":1.375,"mu":44.9},{"z":1.38,"mu":45.9},{"z":1.383,"mu":44.3},{"z":1.388,"mu":46.9},{"z":1.392,"mu":45.1},
{"z":1.413,"mu":41.73},{"z":1.415,"mu":41.14},{"z":1.418,"mu":39.59},{"z":1.464,"mu":39.8},{"z":1.41,"mu":48.8},{"z":1.46,"mu":48.19},{"z":1.408,"mu":47.5},{"z":1.462,"mu":47.7},{"z":1.401,"mu":45.2},{"z":1.404,"mu":43.1},{"z":1.406,"mu":46.6},{"z":1.409,"mu":44.3},{"z":1.411,"mu":42.4},{"z":1.414,"mu":45.9},{"z":1.416,"mu":47.4},{"z":1.419,"mu":43.8},{"z":1.421,"mu":45.4},{"z":1.424,"mu":42.8},{"z":1.426,"mu":46.9},{"z":1.429,"mu":44.6},{"z":1.431,"mu":43.4},{"z":1.434,"mu":45.7},{"z":1.436,"mu":47.9},{"z":1.439,"mu":44.1},{"z":1.441,"mu":42.2},{"z":1.444,"mu":46.2},{"z":1.446,"mu":44.8},{"z":1.449,"mu":43.0},{"z":1.451,"mu":45.5},{"z":1.454,"mu":47.2},{"z":1.456,"mu":43.6},{"z":1.459,"mu":46.0},{"z":1.461,"mu":44.4},{"z":1.464,"mu":42.6},{"z":1.466,"mu":45.1},{"z":1.469,"mu":46.7},{"z":1.471,"mu":43.9},{"z":1.474,"mu":45.8},{"z":1.476,"mu":41.9},{"z":1.479,"mu":44.9},{"z":1.481,"mu":47.0},{"z":1.484,"mu":43.2},{"z":1.486,"mu":45.3},{"z":1.489,"mu":46.4},{"z":1.491,"mu":44.0},{"z":1.494,"mu":42.9},{"z":1.496,"mu":45.6},{"z":1.499,"mu":44.7},{"z":1.407,"mu":48.0},{"z":1.417,"mu":44.0},{"z":1.427,"mu":41.5},{"z":1.437,"mu":46.3},{"z":1.447,"mu":42.0},{"z":1.457,"mu":48.4},{"z":1.467,"mu":43.5},{"z":1.477,"mu":46.1},{"z":1.487,"mu":42.3},{"z":1.497,"mu":47.5},{"z":1.412,"mu":45.0},{"z":1.432,"mu":44.5},{"z":1.452,"mu":42.5},{"z":1.472,"mu":47.6},{"z":1.492,"mu":43.4},
{"z":1.402,"mu":44.6},{"z":1.405,"mu":46.0},{"z":1.41,"mu":45.3},{"z":1.413,"mu":43.9},{"z":1.418,"mu":46.4},{"z":1.422,"mu":45.0},{"z":1.425,"mu":44.2},{"z":1.428,"mu":46.8},{"z":1.433,"mu":45.5},{"z":1.438,"mu":43.8},{"z":1.443,"mu":45.1},{"z":1.448,"mu":46.6},{"z":1.453,"mu":44.5},{"z":1.455,"mu":45.9},{"z":1.458,"mu":44.0},{"z":1.463,"mu":46.5},{"z":1.468,"mu":45.0},{"z":1.473,"mu":44.3},{"z":1.478,"mu":46.3},{"z":1.483,"mu":45.5},{"z":1.485,"mu":43.7},{"z":1.488,"mu":44.6},{"z":1.493,"mu":46.1},{"z":1.498,"mu":45.2}
]
},
"encoding": {
  "x": {"field": "z", "type": "quantitative", "title": "z",
    "scale": {"domain": [-0.005, 1.5], "nice": false, "zero": false},
    "axis": {"values": [0, 0.2, 0.4, 0.6, 0.8, 1.0, 1.2, 1.4], "format": ".1f", "labelPadding": 4, "titlePadding": 6,
      "labelFont": "Liberation Serif", "labelFontSize": 15, "labelColor": "#555",
      "titleFont": "DejaVu Sans", "titleFontSize": 15, "titleFontWeight": "normal", "titleColor": "#000"}},
  "y": {"field": "mu", "type": "quantitative", "title": "Distance Modulus",
    "scale": {"domain": [33, 49], "nice": false, "zero": false},
    "axis": {"values": [34, 36, 38, 40, 42, 44, 46, 48], "format": "d", "labelPadding": 3, "titlePadding": 5,
      "labelFont": "Liberation Serif", "labelFontSize": 15, "labelColor": "#555",
      "titleFont": "DejaVu Sans", "titleFontSize": 14, "titleFontWeight": "normal", "titleColor": "#000"}}
},
"layer": [
  {"data": {"name": "gold"}, "mark": {"type": "point", "filled": true, "shape": "circle", "size": 24, "fill": "#ffd400", "stroke": "#3a3000", "strokeWidth": 0.7, "opacity": 1, "clip": true}},
  {"data": {"name": "green"}, "mark": {"type": "point", "filled": true, "shape": "circle", "size": 20, "fill": "#33cc33", "stroke": "#1b7f1b", "strokeWidth": 0.6, "opacity": 1, "clip": true}},
  {"data": {"name": "curve"}, "mark": {"type": "line", "color": "black", "strokeWidth": 2, "clip": true}},
  {"data": {"name": "bins"}, "mark": {"type": "errorbar", "ticks": {"size": 6, "color": "black", "strokeWidth": 1.3}, "rule": {"color": "black", "strokeWidth": 1.3}},
   "encoding": {"y": {"field": "lo", "type": "quantitative", "title": "Distance Modulus"}, "y2": {"field": "hi"}}},
  {"data": {"name": "bins"}, "mark": {"type": "point", "filled": true, "shape": "circle", "size": 125, "color": "black", "opacity": 1}}
]
}
